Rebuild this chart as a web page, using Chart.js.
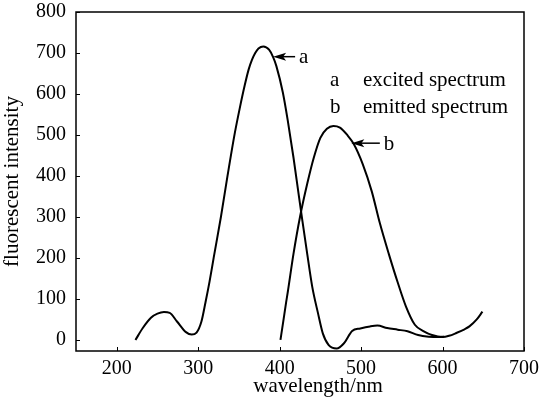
<!DOCTYPE html>
<html>
<head>
<meta charset="utf-8">
<script src="https://cdn.jsdelivr.net/npm/chart.js@4.4.0/dist/chart.umd.min.js"></script>
<style>
  html, body { margin: 0; padding: 0; background: #fff; }
</style>
</head>
<body>
<canvas id="chart" width="542" height="402"></canvas>
<script>
// ─── Data ───
const xTicks = [200, 300, 400, 500, 600, 700];
const yTicks = [0, 100, 200, 300, 400, 500, 600, 700, 800];

// a — excited spectrum
const excitedWl  = [223, 232, 242, 250, 258, 265, 274, 285, 292, 298, 304, 309, 314, 319, 328, 336, 345, 351, 357, 362, 366, 370, 374, 380, 387, 392, 396, 404, 410, 417, 423, 428, 434, 440, 447, 453, 460, 470, 479, 489, 499, 511, 520, 532, 545, 557, 570, 583, 596, 602];
const excitedVal = [0, 29, 54, 64, 68, 66, 45, 19, 13, 18, 45, 92, 143, 200, 301, 400, 505, 565, 620, 660, 683, 700, 711, 716, 708, 690, 668, 603, 535, 445, 360, 290, 208, 130, 66, 16, -12, -21, -8, 22, 28, 33, 35, 29, 25, 21, 12, 8, 7, 8];

// b — emitted spectrum
const emittedWl  = [401, 404, 408, 410, 417, 425, 434, 442, 450, 458, 466, 474, 483, 491, 502, 513, 523, 534, 545, 555, 566, 577, 587, 600, 608, 617, 627, 633, 642, 649];
const emittedVal = [0, 39, 92, 117, 210, 300, 382, 445, 493, 515, 522, 518, 500, 478, 429, 363, 285, 210, 140, 82, 37, 21, 12, 7, 10, 17, 26, 33, 50, 69];

const legendKeys = ['a', 'b'];
const legendNames = ['excited spectrum', 'emitted spectrum'];

// arrow callouts, in data units
const arrowTipWl  = [392, 488];
const arrowTipVal = [691, 480];
const arrowTailWl = [419, 523];

// ─── Style ───
const FONT = "'Liberation Serif', 'Times New Roman', serif";
const INK = '#000';

// ─── Frame, inward ticks, callouts, legend ───
const decor = {
    id: 'decor',
    afterDraw(chart) {
        const { ctx, chartArea: a, scales: { x, y } } = chart;
        ctx.save();
        ctx.strokeStyle = INK;
        ctx.fillStyle = INK;

        ctx.lineWidth = 1.5;
        ctx.strokeRect(a.left, a.top, a.right - a.left, a.bottom - a.top);

        ctx.lineWidth = 1;
        ctx.beginPath();
        x.ticks.forEach(t => {
            const px = Math.round(x.getPixelForValue(t.value)) + 0.5;
            ctx.moveTo(px, a.bottom);
            ctx.lineTo(px, a.bottom - 4);
        });
        y.ticks.forEach(t => {
            const py = Math.round(y.getPixelForValue(t.value)) + 0.5;
            ctx.moveTo(a.left, py);
            ctx.lineTo(a.left + 4, py);
        });
        ctx.stroke();

        ctx.font = `21px ${FONT}`;
        ctx.textBaseline = 'middle';
        legendKeys.forEach((k, i) => {
            const tx = x.getPixelForValue(arrowTipWl[i]);
            const ty = y.getPixelForValue(arrowTipVal[i]);
            const ex = x.getPixelForValue(arrowTailWl[i]);
            ctx.lineWidth = 1.5;
            ctx.beginPath();
            ctx.moveTo(tx + 8, ty);
            ctx.lineTo(ex, ty);
            ctx.stroke();
            ctx.beginPath();
            ctx.moveTo(tx, ty);
            ctx.lineTo(tx + 13, ty - 4);
            ctx.lineTo(tx + 10, ty);
            ctx.lineTo(tx + 13, ty + 4);
            ctx.closePath();
            ctx.fill();
            ctx.fillText(k, ex + 4, ty + 1);
        });

        ctx.textBaseline = 'alphabetic';
        legendKeys.forEach((k, i) => {
            const ly = 86 + i * 27;
            ctx.fillText(k, 330, ly);
            ctx.fillText(legendNames[i], 363, ly);
        });

        ctx.textAlign = 'center';
        ctx.textBaseline = 'middle';
        ctx.fillText('wavelength/nm', (a.left + a.right) / 2 + 18, 386);
        ctx.restore();
    }
};

const toPoints = (xs, ys) => xs.map((v, i) => ({ x: v, y: ys[i] }));

new Chart(document.getElementById('chart').getContext('2d'), {
    type: 'line',
    data: {
        datasets: [
            {
                label: 'a',
                data: toPoints(excitedWl, excitedVal),
                borderColor: INK,
                borderWidth: 2,
                pointRadius: 0,
                cubicInterpolationMode: 'monotone',
                fill: false,
            },
            {
                label: 'b',
                data: toPoints(emittedWl, emittedVal),
                borderColor: INK,
                borderWidth: 2,
                pointRadius: 0,
                cubicInterpolationMode: 'monotone',
                fill: false,
            }
        ]
    },
    options: {
        responsive: false,
        devicePixelRatio: 1,
        animation: false,
        layout: { padding: { left: 0, right: 18, top: 12, bottom: 0 } },
        plugins: { legend: { display: false }, tooltip: { enabled: false } },
        scales: {
            x: {
                type: 'linear',
                min: 150,
                max: 700,
                afterBuildTicks: s => { s.ticks = xTicks.map(v => ({ value: v })); },
                afterFit: s => { s.height = 51; s.paddingLeft = 0; s.paddingRight = 0; },
                grid: { display: false, drawTicks: false },
                border: { display: false },
                ticks: { color: INK, padding: 6, maxRotation: 0, font: { family: FONT, size: 20 } },
            },
            y: {
                type: 'linear',
                min: -27,
                max: 800,
                afterBuildTicks: s => { s.ticks = yTicks.map(v => ({ value: v })); },
                afterFit: s => { s.width = 76; s.paddingTop = 0; s.paddingBottom = 0; },
                grid: { display: false, drawTicks: false },
                border: { display: false },
                ticks: { color: INK, padding: 10, font: { family: FONT, size: 20 } },
                title: {
                    display: true,
                    text: 'fluorescent intensity',
                    color: INK,
                    padding: { top: 0, bottom: 0 },
                    font: { family: FONT, size: 21, lineHeight: 1.2 },
                },
            }
        }
    },
    plugins: [decor]
});
</script>
</body>
</html>
